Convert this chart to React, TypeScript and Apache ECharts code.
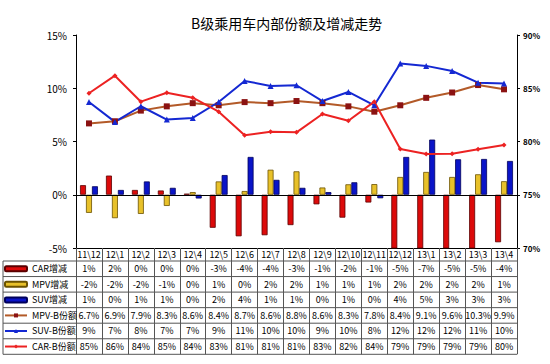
import React, { useEffect, useRef } from "react";
import * as echarts from "echarts";

const categories = ["11\\12", "12\\1", "12\\2", "12\\3", "12\\4", "12\\5", "12\\6", "12\\7", "12\\8", "12\\9", "12\\10", "12\\11", "12\\12", "13\\1", "13\\2", "13\\3", "13\\4"];
const carChange = [0.9, 1.8, 0.45, 0.4, 0.1, -3.1, -3.9, -3.8, -2.85, -0.9, -2.15, -0.73, -5.3, -7.0, -5.4, -5.2, -4.46];
const mpvChange = [-1.7, -2.2, -1.8, -1.05, 0.25, 1.25, 0.35, 2.35, 2.2, 0.68, 0.98, 1.0, 1.67, 2.14, 1.67, 1.92, 1.27];
const suvChange = [0.8, 0.45, 1.25, 0.65, -0.35, 1.85, 3.55, 1.4, 0.65, 0.25, 1.17, -0.33, 3.55, 5.18, 3.33, 3.36, 3.17];
const mpvShare = [6.7, 6.9, 7.9, 8.3, 8.6, 8.4, 8.7, 8.6, 8.8, 8.6, 8.3, 7.8, 8.4, 9.1, 9.6, 10.3, 9.9];
const suvShare = [8.71, 6.84, 8.31, 7.06, 7.21, 8.71, 10.69, 10.22, 10.28, 8.8, 9.65, 8.4, 12.32, 12.1, 11.62, 10.52, 10.44];
const carShare = [84.53, 86.18, 83.74, 84.58, 84.11, 82.8, 80.58, 80.92, 80.86, 82.58, 81.95, 83.74, 79.3, 78.83, 78.85, 79.27, 79.67];
const leftTicks = { min: -5, max: 15, interval: 5 };
const rightTicks = { min: 70, max: 90, interval: 5 };

const FONT = "'Noto Sans CJK SC', 'DejaVu Sans', sans-serif";
const ROW_H = 15.55;
const HEAD_H = 13;
const TABLE_TOP = 248;

const pct = (v: number) => `${Math.round(v) === 0 ? 0 : Math.round(v)}%`;

export default function App() {
  const ref = useRef<HTMLDivElement>(null);
  useEffect(() => {
    if (!ref.current) return;
    const chart = echarts.init(ref.current, undefined, { renderer: "svg" });
    const bodyTop = TABLE_TOP + HEAD_H;
    const hLines: any[] = [];
    for (let k = 0; k <= 6; k++) {
      const y = bodyTop + ROW_H * k;
      hLines.push({
        type: "line",
        shape: { x1: 3, y1: y, x2: 517, y2: y },
        style: { stroke: "#555", lineWidth: 1 },
        silent: true,
      });
    }
    hLines.push({
      type: "line",
      shape: { x1: 3, y1: bodyTop, x2: 3, y2: bodyTop + ROW_H * 6 },
      style: { stroke: "#555", lineWidth: 1 },
      silent: true,
    });

    const barBase = {
      type: "bar",
      yAxisIndex: 0,
      barGap: "0%",
      barCategoryGap: "31%",
      clip: true,
    };

    chart.setOption({
      animation: false,
      backgroundColor: "#fff",
      title: {
        text: "B级乘用车内部份额及增减走势",
        left: 186,
        top: 11,
        textStyle: { fontFamily: FONT, fontSize: 14, fontWeight: "normal", color: "#000" },
      },
      legend: {
        orient: "vertical",
        left: 4,
        top: bodyTop,
        padding: 0,
        itemGap: 0,
        itemWidth: 22,
        itemHeight: 5,
        textStyle: { fontFamily: FONT, fontSize: 9, color: "#000", lineHeight: ROW_H },
        data: ["CAR增减", "MPV增减", "SUV增减", "MPV-B份额", "SUV-B份额", "CAR-B份额"],
      },
      grid: { left: 76, right: 33, top: 35, bottom: 364 - TABLE_TOP },
      xAxis: [
        {
          type: "category",
          data: categories,
          position: "bottom",
          boundaryGap: true,
          axisLine: { onZero: false, lineStyle: { color: "#000", width: 1 } },
          axisTick: { show: true, interval: 0, length: HEAD_H + ROW_H * 6, lineStyle: { color: "#555" } },
          axisLabel: {
            interval: 0,
            margin: 0,
            fontFamily: FONT,
            fontSize: 9,
            color: "#000",
            formatter: (v: string, i: number) =>
              [
                `{h|${v}}`,
                `{v|${pct(carChange[i])}}`,
                `{v|${pct(mpvChange[i])}}`,
                `{v|${pct(suvChange[i])}}`,
                `{v|${mpvShare[i].toFixed(1)}%}`,
                `{v|${pct(suvShare[i])}}`,
                `{v|${pct(carShare[i])}}`,
              ].join("\n"),
            rich: {
              h: { fontFamily: FONT, fontSize: 9, lineHeight: HEAD_H, color: "#000" },
              v: { fontFamily: FONT, fontSize: 9, lineHeight: ROW_H, color: "#000" },
            },
          },
        },
      ],
      yAxis: [
        {
          type: "value",
          ...leftTicks,
          axisLine: { show: true, lineStyle: { color: "#000" } },
          axisTick: { show: true, length: 3, lineStyle: { color: "#000" } },
          splitLine: { show: false },
          axisLabel: { formatter: "{value}%", fontFamily: FONT, fontSize: 10, color: "#000", margin: 9 },
        },
        {
          type: "value",
          ...rightTicks,
          position: "right",
          axisLine: { show: true, lineStyle: { color: "#000" } },
          axisTick: { show: true, length: 3, lineStyle: { color: "#000" } },
          splitLine: { show: false },
          axisLabel: { formatter: "{value}%", fontFamily: FONT, fontSize: 8, fontWeight: "bold", color: "#000", margin: 6 },
        },
      ],
      series: [
        {
          ...barBase,
          name: "CAR增减",
          data: carChange,
          itemStyle: { color: "#dc0a0a", borderColor: "#5a0000", borderWidth: 0.8 },
          markLine: {
            silent: true,
            symbol: "none",
            label: { show: false },
            lineStyle: { color: "#000", width: 1, type: "solid" },
            data: [{ yAxis: 0 }],
          },
        },
        {
          ...barBase,
          name: "MPV增减",
          data: mpvChange,
          itemStyle: { color: "#e8c12a", borderColor: "#6b5200", borderWidth: 0.8 },
        },
        {
          ...barBase,
          name: "SUV增减",
          data: suvChange,
          itemStyle: { color: "#0a14c8", borderColor: "#00005a", borderWidth: 0.8 },
        },
        {
          type: "line",
          name: "MPV-B份额",
          yAxisIndex: 0,
          data: mpvShare,
          symbol: "rect",
          symbolSize: 6,
          lineStyle: { color: "#b35a28", width: 2 },
          itemStyle: { color: "#8b1212" },
        },
        {
          type: "line",
          name: "SUV-B份额",
          yAxisIndex: 0,
          data: suvShare,
          symbol: "triangle",
          symbolSize: 6,
          lineStyle: { color: "#1428d2", width: 2 },
          itemStyle: { color: "#1428d2" },
        },
        {
          type: "line",
          name: "CAR-B份额",
          yAxisIndex: 1,
          data: carShare,
          symbol: "diamond",
          symbolSize: 5,
          lineStyle: { color: "#ec2222", width: 2 },
          itemStyle: { color: "#ec2222" },
        },
      ],
      graphic: hLines,
    });
    return () => chart.dispose();
  }, []);
  return <div ref={ref} style={{ position: "fixed", left: 0, top: 0, width: 550, height: 364 }} />;
}
